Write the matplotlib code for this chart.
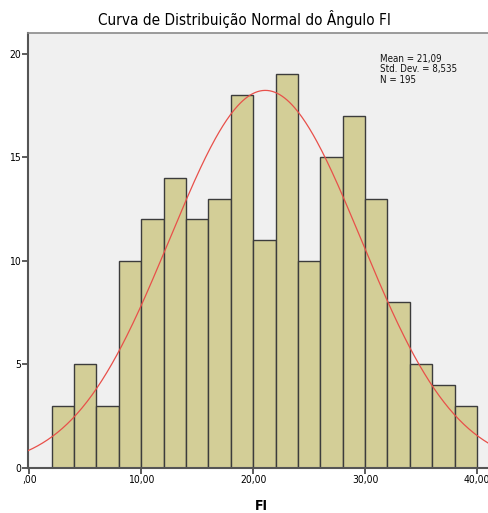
import numpy as np
import matplotlib.pyplot as plt
from matplotlib import font_manager

# histogram of FI angle, bins of width 2 from 2 to 40
bin_edges = [2, 4, 6, 8, 10, 12, 14, 16, 18, 20, 22, 24, 26, 28, 30, 32, 34, 36, 38, 40]
counts = [3, 5, 3, 10, 12, 14, 12, 13, 18, 11, 19, 10, 15, 17, 13, 8, 5, 4, 3]
mean = 21.09
std = 8.535
n = 195

xticks = [0, 10, 20, 30, 40]
xtick_labels = [',00', '10,00', '20,00', '30,00', '40,00']
yticks = [0, 5, 10, 15, 20]

# pick a narrow face if one is installed, Arial-like otherwise
names = {f.name for f in font_manager.fontManager.ttflist}
cond = [f for f in font_manager.fontManager.ttflist
        if 'condensed' in f.fname.lower() or 'narrow' in f.fname.lower()]
if 'Liberation Sans Narrow' in names:
    fp = dict(family='Liberation Sans Narrow')
elif cond:
    fp = dict(family=cond[0].name, stretch=cond[0].stretch)
else:
    fp = dict(family='Liberation Sans')

fig = plt.figure(figsize=(4.89, 5.13), dpi=100)
ax = fig.add_axes([28 / 489, 45 / 513, 1 - 28 / 489 + 0.01, 435 / 513])
ax.set_facecolor('#f0f0f0')

lefts = np.array(bin_edges[:-1])
widths = np.diff(bin_edges)
ax.bar(lefts, counts, width=widths, align='edge',
       color='#d3ce97', edgecolor='#3c3c3c', linewidth=1.0, zorder=2)

x = np.linspace(-1, 43, 400)
pdf = n * 2 / (std * np.sqrt(2 * np.pi)) * np.exp(-0.5 * ((x - mean) / std) ** 2)
ax.plot(x, pdf, color='#e8504a', lw=0.9, zorder=3)

ax.set_xlim(-0.1, 41.5)
ax.set_ylim(0, 21)
ax.set_xticks(xticks)
ax.set_xticklabels(xtick_labels, fontsize=7.5, **fp)
ax.set_yticks(yticks)
ax.set_yticklabels([str(v) for v in yticks], fontsize=7.5, **fp)
ax.tick_params(direction='out', length=4, width=1.2, color='#404040', pad=1)

for side in ['left', 'bottom']:
    ax.spines[side].set_color('#555555')
    ax.spines[side].set_linewidth(1.5)
ax.spines['top'].set_color('#8a8a8a')
ax.spines['top'].set_linewidth(1.2)
ax.spines['right'].set_visible(False)

ax.text(0.756, 0.952, 'Mean = 21,09\nStd. Dev. = 8,535\nN = 195',
        transform=ax.transAxes, va='top', ha='left',
        fontsize=7, linespacing=1.05, color='#111111', **fp)

fig.text(0.5, 0.962, 'Curva de Distribuição Normal do Ângulo FI',
         ha='center', va='center', fontsize=11, **fp)
fig.text(0.535, 0.014, 'FI', ha='center', va='center',
         fontsize=10, fontweight='bold', **fp)

fig.savefig('out.png', dpi=100)
